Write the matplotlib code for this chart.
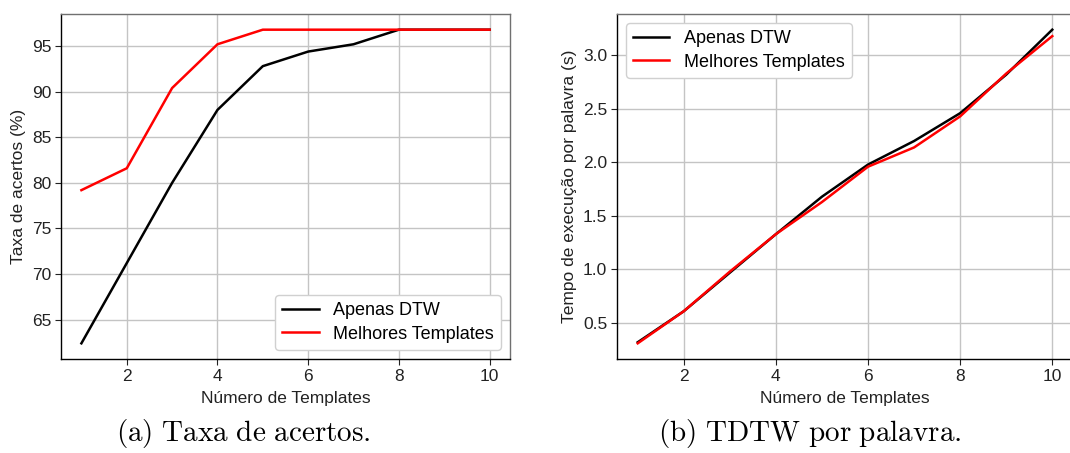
import matplotlib
matplotlib.use("Agg")
import matplotlib.pyplot as plt

plt.rcParams["font.family"] = ["Liberation Sans", "DejaVu Sans"]
plt.rcParams["mathtext.fontset"] = "cm"

n_templates = [1, 2, 3, 4, 5, 6, 7, 8, 9, 10]

# Accuracy (%)
acc_dtw = [62.4, 71.2, 80.0, 88.0, 92.8, 94.4, 95.2, 96.8, 96.8, 96.8]
acc_best = [79.2, 81.6, 90.4, 95.2, 96.8, 96.8, 96.8, 96.8, 96.8, 96.8]

# Execution time per word (s)
time_dtw = [0.32, 0.61, 0.97, 1.33, 1.68, 1.98, 2.20, 2.46, 2.82, 3.24]
time_best = [0.31, 0.61, 0.98, 1.33, 1.63, 1.96, 2.14, 2.43, 2.83, 3.18]

series_labels = ["Apenas DTW", "Melhores Templates"]
xlabel = "Número de Templates"
ylabels = ["Taxa de acertos (%)", "Tempo de execução por palavra (s)"]
captions = [r"$\mathrm{(a)\ Taxa\ de\ acertos.}$",
            r"$\mathrm{(b)\ TDTW\ por\ palavra.}$"]

W, H = 1070, 453
fig = plt.figure(figsize=(W / 100, H / 100), dpi=100)

def px_axes(x0, x1, y0, y1):
    return fig.add_axes([x0 / W, 1 - y1 / H, (x1 - x0) / W, (y1 - y0) / H])

ax1 = px_axes(61, 510, 14, 359)
ax2 = px_axes(617, 1073, 14, 359)

TEXT = "#222222"

def style(ax):
    ax.grid(True, color="#c4c4c4", linewidth=1.0)
    ax.set_axisbelow(True)
    for side in ("top", "right"):
        ax.spines[side].set_color("#707070")
    for side in ("left", "bottom"):
        ax.spines[side].set_color("black")
    for s in ax.spines.values():
        s.set_linewidth(1.0)
    ax.tick_params(labelsize=12.5, length=4, width=0.8, colors=TEXT, pad=3)
    ax.set_xticks([2, 4, 6, 8, 10])

ax1.plot(n_templates, acc_dtw, color="black", lw=1.8, label=series_labels[0])
ax1.plot(n_templates, acc_best, color="red", lw=1.8, label=series_labels[1])
style(ax1)
ax1.set_yticks([65, 70, 75, 80, 85, 90, 95])
ax1.set_xlabel(xlabel, fontsize=12.5, color=TEXT, labelpad=5)
ax1.set_ylabel(ylabels[0], fontsize=12.5, color=TEXT, labelpad=4)
ax1.legend(loc="lower right", fontsize=13, framealpha=1, edgecolor="#d0d0d0",
           borderaxespad=0.5, borderpad=0.4, labelspacing=0.35)

ax2.plot(n_templates, time_dtw, color="black", lw=1.8, label=series_labels[0])
ax2.plot(n_templates, time_best, color="red", lw=1.8, label=series_labels[1])
style(ax2)
ax2.set_yticks([0.5, 1.0, 1.5, 2.0, 2.5, 3.0])
ax2.set_xlabel(xlabel, fontsize=12.5, color=TEXT, labelpad=5)
ax2.set_ylabel(ylabels[1], fontsize=12.5, color=TEXT, labelpad=4)
ax2.legend(loc="upper left", fontsize=13, framealpha=1, edgecolor="#d0d0d0",
           borderaxespad=0.5, borderpad=0.4, labelspacing=0.35)

fig.text(243 / W, 1 - 434 / H, captions[0], fontsize=21, ha="center", va="center")
fig.text(810 / W, 1 - 434 / H, captions[1], fontsize=21, ha="center", va="center")

fig.savefig("out.png", dpi=100)
